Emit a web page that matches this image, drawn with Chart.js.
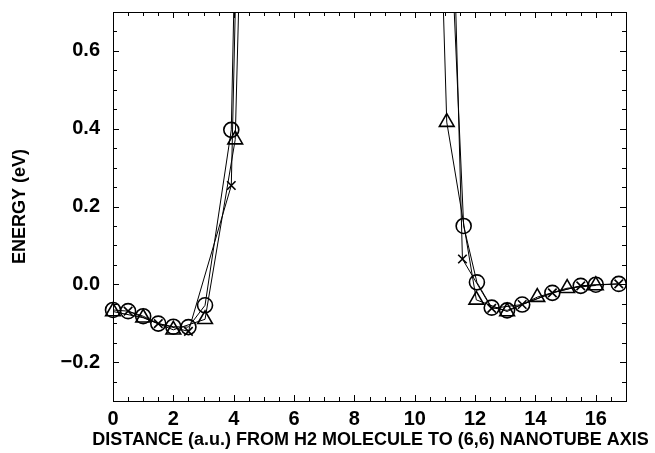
<!DOCTYPE html>
<html>
<head>
<meta charset="utf-8">
<script src="https://cdn.jsdelivr.net/npm/chart.js@4/dist/chart.umd.min.js"></script>
<style>
  body { margin: 0; background: #fff; }
  #wrap { width: 655px; height: 453px; }
</style>
</head>
<body>
<div id="wrap"><canvas id="canvas" width="655" height="453"></canvas></div>
<script>
// distance (a.u.) and energy (eV) for each marker series
// points at 4.5 and 10.5 sit inside the wall, far above the plot
var circleX = [0, 0.5, 1.0, 1.5, 2.0, 2.5, 3.05, 3.92, 4.5, 10.5, 11.62, 12.06, 12.55, 13.06, 13.56, 14.56, 15.5, 16.0, 16.76];
var circleY = [-0.066, -0.069, -0.082, -0.101, -0.109, -0.110, -0.054, 0.397, 2.58, 2.13, 0.150, 0.005, -0.060, -0.067, -0.052, -0.022, -0.004, -0.001, 0.001];

var triangleX = [0, 1.0, 2.0, 3.05, 4.05, 4.5, 10.5, 11.06, 12.04, 13.06, 14.06, 15.05, 16.0];
var triangleY = [-0.070, -0.086, -0.117, -0.090, 0.372, 1.71, 1.86, 0.417, -0.040, -0.070, -0.033, -0.010, -0.003];

var crossX = [0.5, 1.5, 2.5, 3.92, 4.5, 10.5, 11.58, 12.55, 13.56, 14.56, 15.5, 16.76];
var crossY = [-0.069, -0.101, -0.121, 0.254, 2.24, 3.19, 0.065, -0.062, -0.052, -0.022, -0.004, 0.001];

var xTicks = [0, 2, 4, 6, 8, 10, 12, 14, 16];
var yTicks = [-0.2, 0.0, 0.2, 0.4, 0.6];

var xTitle = 'DISTANCE (a.u.) FROM H2 MOLECULE TO (6,6) NANOTUBE AXIS';
var yTitle = 'ENERGY (eV)';

function pts(xs, ys) {
    return xs.map(function (x, i) { return { x: x, y: ys[i] }; });
}

var font = { family: 'Liberation Sans, Arial, sans-serif', size: 20, weight: 'bold' };
var titleFont = { family: 'Liberation Sans, Arial, sans-serif', size: 18, weight: 'bold' };

// frame round the plot with small inward ticks on all four sides,
// plus the x title (chart.js would squeeze it to the axis width)
var frameTicks = {
    id: 'frameTicks',
    afterDatasetsDraw: function (chart) {
        var ctx = chart.ctx, a = chart.chartArea;
        var xs = chart.scales.x, ys = chart.scales.y;
        ctx.save();
        ctx.strokeStyle = '#000';
        ctx.lineWidth = 1;
        ctx.beginPath();
        for (var i = 0; i <= 34; i++) {
            var v = i * 0.5;
            var px = Math.round(xs.getPixelForValue(v)) + 0.5;
            var len = (i % 4 === 0) ? 6 : 4;
            ctx.moveTo(px, a.bottom); ctx.lineTo(px, a.bottom - len);
            ctx.moveTo(px, a.top); ctx.lineTo(px, a.top + len);
        }
        for (var j = 0; j <= 20; j++) {
            var w = -0.3 + j * 0.05;
            var py = Math.round(ys.getPixelForValue(w)) + 0.5;
            var l2 = ((j + 2) % 4 === 0) ? 6 : 4;
            ctx.moveTo(a.left, py); ctx.lineTo(a.left + l2, py);
            ctx.moveTo(a.right, py); ctx.lineTo(a.right - l2, py);
        }
        ctx.stroke();
        ctx.strokeRect(Math.round(a.left) + 0.5, Math.round(a.top) + 0.5,
            Math.round(a.right - a.left), Math.round(a.bottom - a.top));

        ctx.fillStyle = '#000';
        ctx.font = 'bold 18px "Liberation Sans", Arial, sans-serif';
        ctx.textAlign = 'center';
        ctx.textBaseline = 'middle';
        ctx.fillText(xTitle, (a.left + a.right) / 2 + 1, 440);
        ctx.restore();
    }
};

function series(xs, ys, style, r) {
    return {
        data: pts(xs, ys),
        showLine: true,
        clip: { left: 12, right: 12, top: 0, bottom: 12 },
        borderColor: '#000',
        borderWidth: 1,
        pointStyle: style,
        pointRadius: r,
        pointBorderWidth: 1.6,
        pointBackgroundColor: 'rgba(0,0,0,0)',
        pointBorderColor: '#000'
    };
}

const ctx = document.getElementById('canvas');
new Chart(ctx, {
    type: 'scatter',
    data: {
        datasets: [
            series(circleX, circleY, 'circle', 7.5),
            series(triangleX, triangleY, 'triangle', 8.5),
            series(crossX, crossY, 'crossRot', 6)
        ]
    },
    options: {
        responsive: false,
        animation: false,
        layout: { padding: { top: 12, right: 29, left: 0, bottom: 0 } },
        plugins: {
            legend: { display: false },
            tooltip: { enabled: false }
        },
        scales: {
            x: {
                type: 'linear',
                min: 0,
                max: 17,
                afterBuildTicks: function (scale) {
                    scale.ticks = xTicks.map(function (v) { return { value: v }; });
                },
                afterFit: function (scale) {
                    scale.height = 52;
                    scale.paddingLeft = 0;
                    scale.paddingRight = 0;
                },
                grid: { display: false, drawTicks: false },
                border: { display: false },
                ticks: {
                    padding: 6,
                    color: '#000',
                    font: font,
                    maxRotation: 0,
                    autoSkip: false,
                    callback: function (v) { return String(v); }
                }
            },
            y: {
                min: -0.3,
                max: 0.7,
                afterBuildTicks: function (scale) {
                    scale.ticks = yTicks.map(function (v) { return { value: v }; });
                },
                afterFit: function (scale) {
                    scale.width = 113;
                    scale.paddingTop = 0;
                    scale.paddingBottom = 0;
                },
                grid: { display: false, drawTicks: false },
                border: { display: false },
                ticks: {
                    padding: 13,
                    color: '#000',
                    font: font,
                    autoSkip: false,
                    callback: function (v) {
                        var s = Math.abs(v).toFixed(1);
                        return v < -1e-9 ? '\u2212' + s : s;
                    }
                },
                title: {
                    display: true,
                    text: yTitle,
                    color: '#000',
                    font: titleFont,
                    padding: { top: 9, bottom: 0 }
                }
            }
        }
    },
    plugins: [frameTicks]
});
</script>
</body>
</html>
